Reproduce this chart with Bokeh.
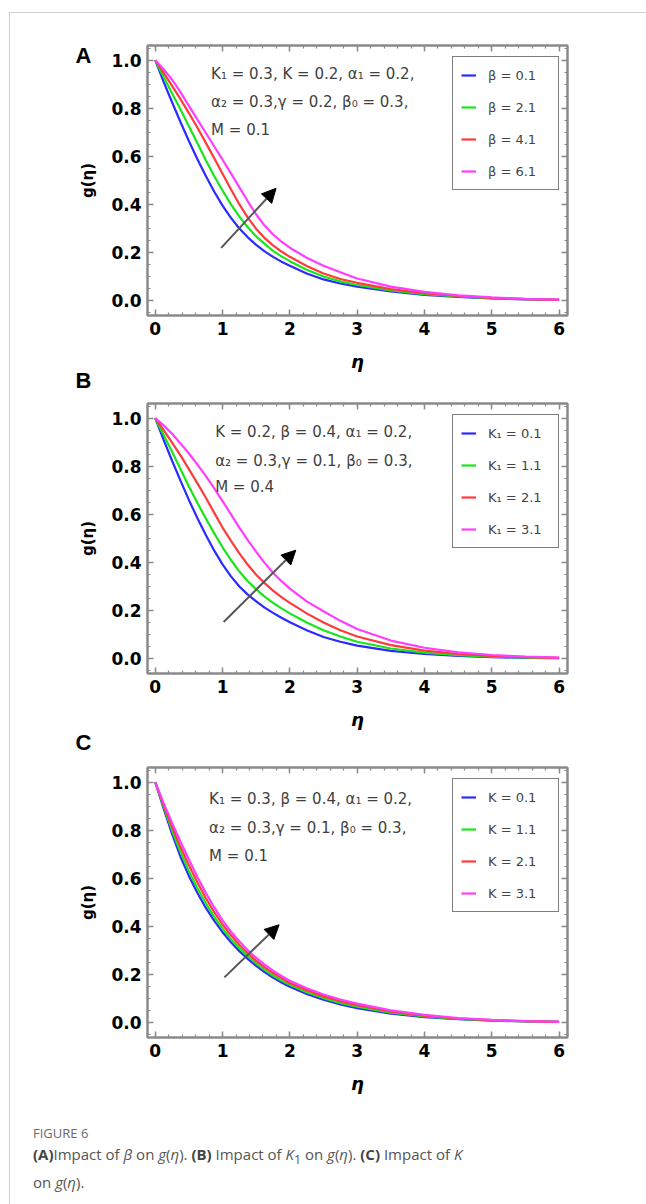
from bokeh.plotting import figure
from bokeh.models import (Range1d, SingleIntervalTicker, FixedTicker, PrintfTickFormatter, LinearAxis,
                          Legend, LegendItem, Label, Arrow, NormalHead, CustomJSTickFormatter, Div, Title)
from bokeh.layouts import column
from bokeh.embed import file_html
from bokeh.resources import INLINE

# ---------------- data ----------------
eta = [0, 0.125, 0.25, 0.375, 0.5, 0.625, 0.75, 0.875, 1.0, 1.125, 1.25, 1.375, 1.5, 1.625,
       1.75, 1.875, 2.0, 2.25, 2.5, 2.75, 3.0, 3.5, 4.0, 4.5, 5.0, 5.5, 6.0]

# Panel A: impact of beta
beta_labels = ["β = 0.1", "β = 2.1", "β = 4.1", "β = 6.1"]
g_beta_01 = [1.0, 0.91, 0.825, 0.743, 0.664, 0.589, 0.519, 0.454, 0.395, 0.344, 0.30, 0.263, 0.232, 0.205,
             0.182, 0.162, 0.145, 0.113, 0.088, 0.071, 0.058, 0.038, 0.024, 0.015, 0.009, 0.005, 0.003]
g_beta_21 = [1.0, 0.93, 0.862, 0.795, 0.725, 0.655, 0.585, 0.518, 0.458, 0.40, 0.349, 0.305, 0.267, 0.236,
             0.207, 0.184, 0.164, 0.128, 0.10, 0.08, 0.065, 0.042, 0.027, 0.017, 0.010, 0.006, 0.003]
g_beta_41 = [1.0, 0.947, 0.893, 0.838, 0.78, 0.72, 0.657, 0.593, 0.528, 0.463, 0.40, 0.345, 0.298, 0.26,
             0.23, 0.204, 0.182, 0.144, 0.113, 0.09, 0.074, 0.048, 0.031, 0.019, 0.011, 0.006, 0.003]
g_beta_61 = [1.0, 0.962, 0.919, 0.867, 0.81, 0.754, 0.698, 0.642, 0.586, 0.529, 0.471, 0.413, 0.358, 0.312,
             0.275, 0.245, 0.22, 0.178, 0.145, 0.118, 0.092, 0.058, 0.036, 0.022, 0.013, 0.007, 0.004]

# Panel B: impact of K1
k1_labels = ["K₁ = 0.1", "K₁ = 1.1", "K₁ = 2.1", "K₁ = 3.1"]
g_k1_01 = [1.0, 0.91, 0.823, 0.74, 0.66, 0.585, 0.515, 0.45, 0.392, 0.342, 0.30, 0.266, 0.238, 0.212,
           0.19, 0.17, 0.151, 0.118, 0.09, 0.07, 0.054, 0.032, 0.019, 0.011, 0.006, 0.003, 0.002]
g_k1_11 = [1.0, 0.93, 0.86, 0.788, 0.716, 0.648, 0.584, 0.522, 0.463, 0.41, 0.362, 0.322, 0.288, 0.258,
           0.232, 0.209, 0.188, 0.15, 0.118, 0.092, 0.07, 0.042, 0.025, 0.014, 0.008, 0.004, 0.002]
g_k1_21 = [1.0, 0.95, 0.898, 0.845, 0.788, 0.73, 0.67, 0.607, 0.545, 0.49, 0.438, 0.39, 0.349, 0.314,
           0.283, 0.256, 0.232, 0.188, 0.15, 0.118, 0.092, 0.056, 0.033, 0.019, 0.011, 0.006, 0.003]
g_k1_31 = [1.0, 0.97, 0.935, 0.895, 0.853, 0.808, 0.76, 0.709, 0.655, 0.60, 0.545, 0.493, 0.444, 0.398,
           0.357, 0.322, 0.291, 0.238, 0.197, 0.157, 0.123, 0.075, 0.045, 0.026, 0.015, 0.008, 0.004]

# Panel C: impact of K
k_labels = ["K = 0.1", "K = 1.1", "K = 2.1", "K = 3.1"]
g_k_01 = [1.0, 0.89, 0.785, 0.69, 0.61, 0.54, 0.478, 0.424, 0.376, 0.334, 0.297, 0.265, 0.236, 0.21,
          0.187, 0.167, 0.149, 0.119, 0.095, 0.076, 0.06, 0.037, 0.023, 0.014, 0.008, 0.005, 0.003]
g_k_11 = [1.0, 0.897, 0.799, 0.709, 0.63, 0.56, 0.497, 0.441, 0.391, 0.347, 0.309, 0.276, 0.246, 0.219,
          0.196, 0.175, 0.157, 0.126, 0.102, 0.082, 0.066, 0.041, 0.026, 0.015, 0.009, 0.005, 0.003]
g_k_21 = [1.0, 0.905, 0.814, 0.73, 0.654, 0.584, 0.518, 0.46, 0.408, 0.363, 0.323, 0.288, 0.257, 0.23,
          0.206, 0.185, 0.165, 0.135, 0.109, 0.089, 0.072, 0.046, 0.029, 0.017, 0.010, 0.006, 0.003]
g_k_31 = [1.0, 0.913, 0.83, 0.752, 0.678, 0.607, 0.54, 0.48, 0.425, 0.378, 0.337, 0.301, 0.269, 0.241,
          0.216, 0.194, 0.174, 0.143, 0.117, 0.096, 0.079, 0.051, 0.032, 0.019, 0.011, 0.006, 0.003]

notes_a = ["K₁ = 0.3, K = 0.2, α₁ = 0.2,", "α₂  = 0.3,γ = 0.2, β₀ = 0.3,", "M = 0.1"]
notes_b = ["K = 0.2, β = 0.4, α₁ = 0.2,", "α₂  = 0.3,γ = 0.1, β₀ = 0.3,", "M = 0.4"]
notes_c = ["K₁ = 0.3, β = 0.4, α₁ = 0.2,", "α₂  = 0.3,γ = 0.1, β₀ = 0.3,", "M = 0.1"]

colors = ["#2b2bff", "#19e619", "#ff3a3a", "#ff3cff"]
FRAME_GREY = "#8a8a8a"
LETTER_FONT = "Liberation Sans"
LETTER_SIZE = "22px"


def style_axis(ax):
    ax.axis_line_color = FRAME_GREY
    ax.axis_line_width = 2
    ax.major_tick_line_color = FRAME_GREY
    ax.minor_tick_line_color = FRAME_GREY
    ax.major_tick_line_width = 1.5
    ax.minor_tick_line_width = 1.2
    ax.major_tick_in = 6
    ax.major_tick_out = 0
    ax.minor_tick_in = 3
    ax.minor_tick_out = 0


def make_panel(series, labels, notes, note_x, note_ys, arrow, border_top, border_bottom,
               letter_on_axis=None, next_letter=None, next_letter_standoff=0):
    p = figure(frame_width=420, frame_height=270, output_backend="svg", toolbar_location=None,
               x_range=Range1d(-0.115, 6.125), y_range=Range1d(-0.062, 1.061),
               min_border_left=137, min_border_right=60,
               min_border_top=border_top, min_border_bottom=border_bottom)
    p.grid.visible = False
    p.outline_line_color = FRAME_GREY
    p.outline_line_width = 2
    p.background_fill_color = "white"
    p.border_fill_color = "white"

    xa = p.below[0]
    ya = p.left[0]
    xa.ticker = SingleIntervalTicker(interval=1, num_minor_ticks=5)
    ya.ticker = SingleIntervalTicker(interval=0.2, num_minor_ticks=4)
    ya.formatter = PrintfTickFormatter(format="%.1f")
    xa.axis_label = "η"
    ya.axis_label = "g(η)"
    for ax in (xa, ya):
        style_axis(ax)
        ax.major_label_text_font = "DejaVu Sans"
        ax.major_label_text_font_style = "bold"
        ax.major_label_text_font_size = "17px"
        ax.major_label_text_color = "black"
        ax.major_label_standoff = 6
    xa.axis_label_text_font = "DejaVu Sans"
    xa.axis_label_text_font_style = "bold italic"
    xa.axis_label_text_font_size = "18px"
    xa.axis_label_text_color = "black"
    xa.axis_label_standoff = 13
    ya.axis_label_text_font = "DejaVu Sans"
    ya.axis_label_text_font_style = "bold"
    ya.axis_label_text_font_size = "15px"
    ya.axis_label_text_color = "black"
    ya.axis_label_standoff = 11

    top = LinearAxis(ticker=SingleIntervalTicker(interval=1, num_minor_ticks=5),
                     formatter=CustomJSTickFormatter(code="return ''"))
    right = LinearAxis(ticker=SingleIntervalTicker(interval=0.2, num_minor_ticks=4),
                       formatter=CustomJSTickFormatter(code="return ''"))
    for ax in (top, right):
        style_axis(ax)
        ax.major_label_text_font_size = "1px"
        ax.major_label_standoff = 0
    p.add_layout(top, "above")
    p.add_layout(right, "right")

    if letter_on_axis is not None:
        # panel letter "A": the single tick label of a bare extra axis
        la = LinearAxis(ticker=FixedTicker(ticks=[letter_on_axis], minor_ticks=[]),
                        formatter=CustomJSTickFormatter(code="return 'A'"),
                        axis_line_color=None, major_tick_line_color=None,
                        minor_tick_line_color=None, major_tick_in=0, major_tick_out=0,
                        major_label_text_font=LETTER_FONT, major_label_text_font_style="bold",
                        major_label_text_font_size=LETTER_SIZE, major_label_text_color="black",
                        major_label_standoff=-15)
        p.add_layout(la, "left")

    if next_letter is not None:
        # the letter of the next panel sits just under this panel's axis title
        t = Title(text=next_letter, align="left", offset=-72, standoff=next_letter_standoff,
                  vertical_align="top", text_font=LETTER_FONT, text_font_style="bold",
                  text_font_size=LETTER_SIZE, text_color="black")
        p.add_layout(t, "below")

    items = []
    for ys, lab, col in zip(series, labels, colors):
        r = p.line(eta, ys, line_color=col, line_width=2.2)
        items.append(LegendItem(label=lab, renderers=[r]))

    legend = Legend(items=items, location=(305, 125),
                    border_line_color="black", border_line_width=1.5,
                    background_fill_color="white", background_fill_alpha=1,
                    label_text_font="DejaVu Sans", label_text_font_size="13px",
                    label_text_color="#444444",
                    glyph_width=15, glyph_height=20, label_height=20, label_width=62,
                    spacing=12, padding=8, label_standoff=12, margin=0)
    p.add_layout(legend)

    for txt, yy in zip(notes, note_ys):
        p.add_layout(Label(x=note_x, y=yy, text=txt, text_font="DejaVu Sans",
                           text_font_size="15px", text_color="#3f3f3f",
                           text_baseline="middle", text_align="left"))

    (x0, y0), (x1, y1) = arrow
    p.add_layout(Arrow(end=NormalHead(size=14, fill_color="black", line_color="black"),
                       x_start=x0, y_start=y0, x_end=x1, y_end=y1,
                       line_color="#555555", line_width=2))
    return p


pA = make_panel([g_beta_01, g_beta_21, g_beta_41, g_beta_61], beta_labels,
                notes_a, 0.83, [0.942, 0.824, 0.709],
                ((0.98, 0.219), (1.795, 0.467)), 32, 80,
                letter_on_axis=1.02, next_letter="B", next_letter_standoff=-13)
pB = make_panel([g_k1_01, g_k1_11, g_k1_21, g_k1_31], k1_labels,
                notes_b, 0.89, [0.941, 0.823, 0.712],
                ((1.016, 0.152), (2.088, 0.451)), 8, 84,
                next_letter="C", next_letter_standoff=-6)
pC = make_panel([g_k_01, g_k_11, g_k_21, g_k_31], k_labels,
                notes_c, 0.80, [0.928, 0.811, 0.693],
                ((1.027, 0.188), (1.84, 0.407)), 10, 62)

caption = Div(
    text=('<div style="font-family:\'Open Sans\',sans-serif;color:#555555;padding-top:25px;">'
          '<div style="font-size:13px;line-height:19px;color:#6a6a6a;">FIGURE 6</div>'
          '<div style="font-size:15px;line-height:22px;">'
          '<b style="color:#444">(A)</b>Impact of <i>β</i> on <i>g</i>(<i>η</i>). '
          '<b style="color:#444">(B)</b> Impact of <i>K</i><sub>1</sub> on <i>g</i>(<i>η</i>). '
          '<b style="color:#444">(C)</b> Impact of <i>K</i><br>on <i>g</i>(<i>η</i>).'
          '</div></div>'),
    width=590, height=105, margin=(0, 0, 0, 23))

layout = column(pA, pB, pC, caption, width=637, margin=(12, 0, 0, 9),
                styles={"border-top": "1px solid #d0d0d0", "border-left": "1px solid #d0d0d0"})

open("out.html", "w").write(file_html(layout, INLINE))
